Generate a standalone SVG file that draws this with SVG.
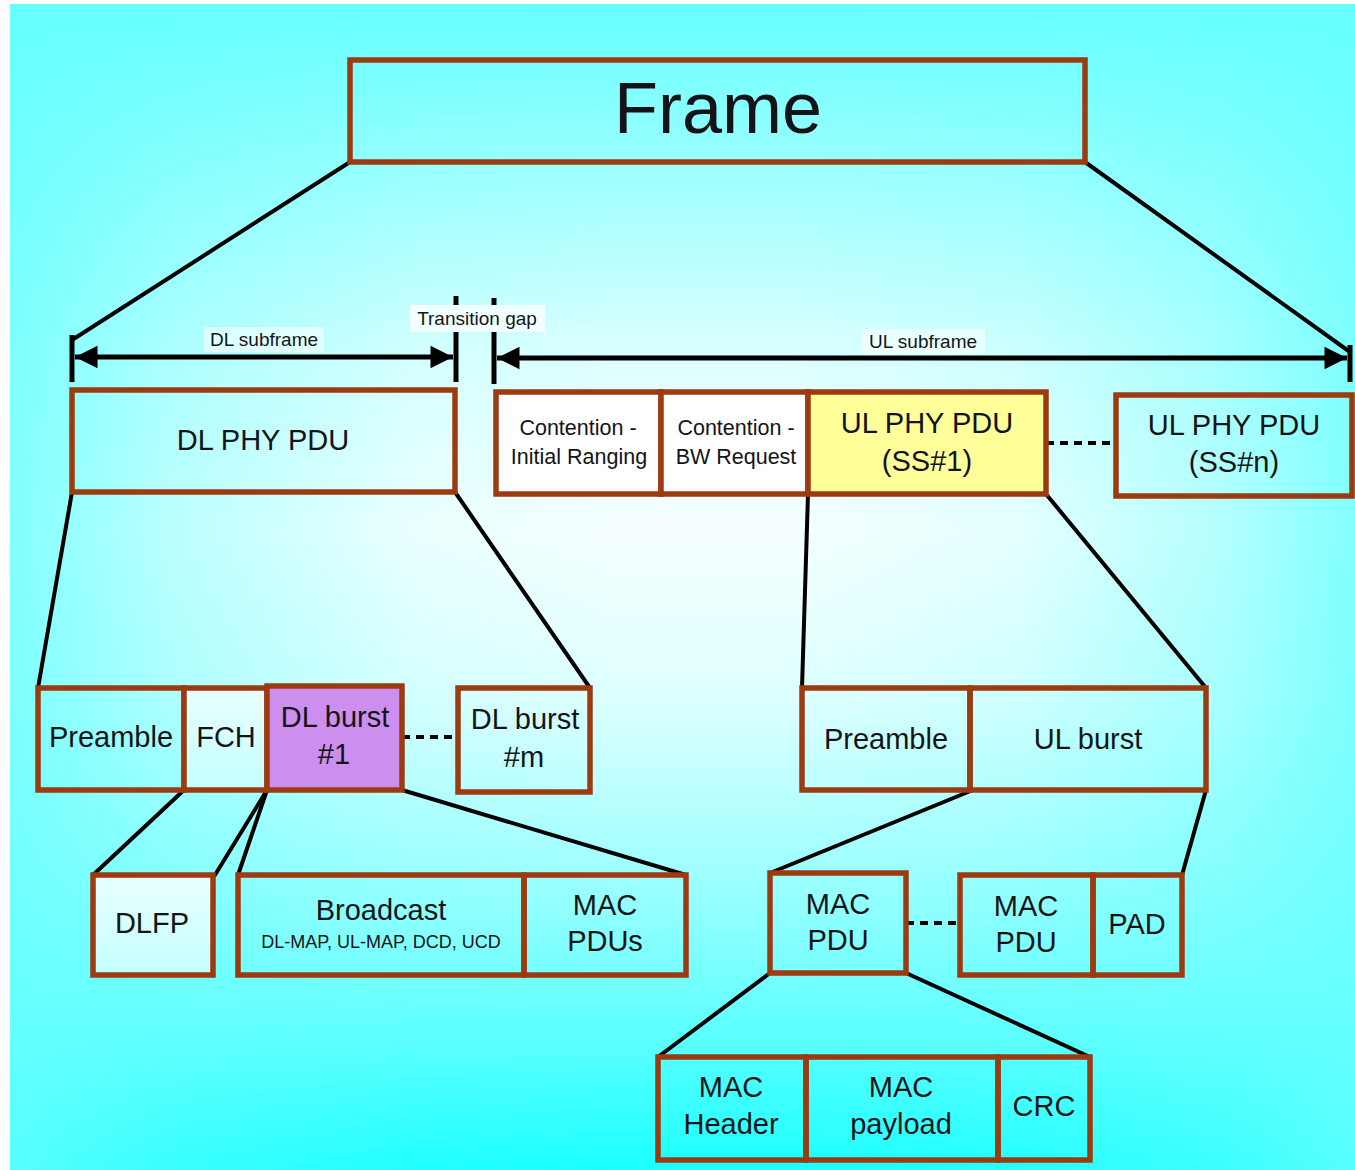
<svg xmlns="http://www.w3.org/2000/svg" width="1355" height="1170" viewBox="0 0 1355 1170">
  <defs>
    <!-- slide background: pale centre fading to cyan towards every edge -->
    <linearGradient id="bgV" x1="0" y1="0" x2="0" y2="1">
      <stop offset="0" stop-color="#66ffff"/>
      <stop offset="0.1" stop-color="#8cffff"/>
      <stop offset="0.3" stop-color="#dcffff"/>
      <stop offset="0.45" stop-color="#f6ffff"/>
      <stop offset="0.6" stop-color="#dcffff"/>
      <stop offset="0.78" stop-color="#90ffff"/>
      <stop offset="0.9" stop-color="#55ffff"/>
      <stop offset="1" stop-color="#1affff"/>
    </linearGradient>
    <linearGradient id="bgH" x1="0" y1="0" x2="1" y2="0">
      <stop offset="0" stop-color="#66ffff" stop-opacity="0.8"/>
      <stop offset="0.12" stop-color="#66ffff" stop-opacity="0.4"/>
      <stop offset="0.3" stop-color="#66ffff" stop-opacity="0.08"/>
      <stop offset="0.45" stop-color="#66ffff" stop-opacity="0"/>
      <stop offset="0.58" stop-color="#66ffff" stop-opacity="0"/>
      <stop offset="0.75" stop-color="#66ffff" stop-opacity="0.12"/>
      <stop offset="0.9" stop-color="#66ffff" stop-opacity="0.45"/>
      <stop offset="1" stop-color="#66ffff" stop-opacity="0.8"/>
    </linearGradient>
    <linearGradient id="paleFill" x1="0" y1="0" x2="0" y2="1">
      <stop offset="0" stop-color="#eaffff"/>
      <stop offset="1" stop-color="#c4ffff"/>
    </linearGradient>
    <marker id="ah" viewBox="0 0 10 10" refX="10" refY="5" markerWidth="5.5" markerHeight="4.5" orient="auto-start-reverse" markerUnits="strokeWidth">
      <path d="M0,0 L10,5 L0,10 z" fill="#000"/>
    </marker>
  </defs>
  <style>
    .box { fill: none; stroke: #9c3a10; stroke-width: 5.5; stroke-linejoin: miter; }
    .conn { stroke: #000; stroke-width: 4; fill: none; stroke-linecap: round; }
    .dash { stroke: #000; stroke-width: 4; stroke-dasharray: 8 6; fill: none; }
    .tick { stroke: #000; stroke-width: 5; }
    .span { stroke: #000; stroke-width: 5; fill: none; }
    .lblbg { fill: #ffffff; fill-opacity: 0.55; }
    text { font-family: "Liberation Sans", Arial, sans-serif; fill: #141418; text-anchor: middle; }
    .t29 { font-size: 29px; }
    .t22 { font-size: 21.5px; }
    .t19 { font-size: 19px; }
    .t18 { font-size: 18px; }
  </style>

  <!-- page background -->
  <rect x="0" y="0" width="1355" height="1170" fill="#ffffff"/>
  <rect x="10" y="4" width="1345" height="1166" fill="url(#bgV)"/>
  <rect x="10" y="4" width="1345" height="1166" fill="url(#bgH)"/>

  <!-- connectors: expansion lines, span arrows, dashed continuations -->
  <g id="connectors">
    <line class="conn" x1="350" y1="162" x2="72" y2="340"/>
    <line class="conn" x1="1085" y1="162" x2="1350" y2="352"/>

    <line class="tick" x1="72" y1="335" x2="72" y2="382"/>
    <line class="tick" x1="456" y1="296" x2="456" y2="382"/>
    <line class="tick" x1="494" y1="298" x2="494" y2="384"/>
    <line class="tick" x1="1350" y1="345" x2="1350" y2="382"/>
    <line class="span" x1="75" y1="357" x2="453" y2="357" marker-start="url(#ah)" marker-end="url(#ah)"/>
    <line class="span" x1="497" y1="358" x2="1347" y2="358" marker-start="url(#ah)" marker-end="url(#ah)"/>

    <line class="dash" x1="1046" y1="443" x2="1116" y2="443"/>

    <line class="conn" x1="72" y1="492" x2="38" y2="688"/>
    <line class="conn" x1="455" y1="492" x2="590" y2="688"/>
    <line class="conn" x1="808" y1="494" x2="802" y2="688"/>
    <line class="conn" x1="1046" y1="494" x2="1206" y2="688"/>

    <line class="dash" x1="402" y1="737" x2="458" y2="737"/>

    <line class="conn" x1="184" y1="790" x2="93" y2="875"/>
    <line class="conn" x1="267" y1="790" x2="215" y2="875"/>
    <line class="conn" x1="267" y1="790" x2="238" y2="875"/>
    <line class="conn" x1="402" y1="790" x2="686" y2="875"/>

    <line class="conn" x1="973" y1="790" x2="770" y2="873"/>
    <line class="conn" x1="1206" y1="790" x2="1182" y2="875"/>

    <line class="dash" x1="906" y1="923" x2="960" y2="923"/>

    <line class="conn" x1="770" y1="973" x2="658" y2="1057"/>
    <line class="conn" x1="906" y1="973" x2="1090" y2="1057"/>
  </g>

  <!-- span labels -->
  <g id="label-dl-subframe">
    <rect class="lblbg" x="204" y="327" width="120" height="25"/>
    <text class="t19" x="264" y="346">DL subframe</text>
  </g>
  <g id="label-transition-gap">
    <rect x="410" y="305" width="135" height="27" fill="#f2ffff"/>
    <text class="t19" x="477" y="325">Transition gap</text>
  </g>
  <g id="label-ul-subframe">
    <rect class="lblbg" x="862" y="329" width="123" height="25"/>
    <text class="t19" x="923" y="348">UL subframe</text>
  </g>

  <!-- level 0 -->
  <g id="frame">
    <rect class="box" x="350" y="60" width="735" height="102"/>
    <text x="718" y="133" font-size="72">Frame</text>
  </g>

  <!-- level 1 -->
  <g id="dl-phy-pdu">
    <rect class="box" x="72" y="390" width="383" height="102"/>
    <text class="t29" x="263" y="450">DL PHY PDU</text>
  </g>
  <g id="contention-ranging">
    <rect class="box" x="496" y="392" width="165" height="102" style="fill:#ffffff"/>
    <text class="t22" x="578" y="435">Contention -</text>
    <text class="t22" x="579" y="464">Initial Ranging</text>
  </g>
  <g id="contention-bw">
    <rect class="box" x="661" y="392" width="147" height="102" style="fill:#ffffff"/>
    <text class="t22" x="736" y="435">Contention -</text>
    <text class="t22" x="736" y="464">BW Request</text>
  </g>
  <g id="ul-phy-pdu-1">
    <rect class="box" x="808" y="392" width="238" height="102" style="fill:#ffff99"/>
    <text class="t29" x="927" y="433">UL PHY PDU</text>
    <text class="t29" x="927" y="471">(SS#1)</text>
  </g>
  <g id="ul-phy-pdu-n">
    <rect class="box" x="1116" y="395" width="236" height="101"/>
    <text class="t29" x="1234" y="435">UL PHY PDU</text>
    <text class="t29" x="1234" y="472">(SS#n)</text>
  </g>

  <!-- level 2, downlink -->
  <g id="dl-preamble">
    <rect class="box" x="38" y="688" width="146" height="102"/>
    <text class="t29" x="111" y="747">Preamble</text>
  </g>
  <g id="fch">
    <rect class="box" x="184" y="688" width="83" height="102" style="fill:url(#paleFill)"/>
    <text class="t29" x="226" y="747">FCH</text>
  </g>
  <g id="dl-burst-1">
    <rect class="box" x="267" y="686" width="135" height="104" style="fill:#cc8fef"/>
    <text class="t29" x="335" y="727">DL burst</text>
    <text class="t29" x="334" y="764">#1</text>
  </g>
  <g id="dl-burst-m">
    <rect class="box" x="458" y="688" width="132" height="104"/>
    <text class="t29" x="525" y="729">DL burst</text>
    <text class="t29" x="524" y="767">#m</text>
  </g>

  <!-- level 2, uplink -->
  <g id="ul-preamble">
    <rect class="box" x="802" y="688" width="168" height="102"/>
    <text class="t29" x="886" y="749">Preamble</text>
  </g>
  <g id="ul-burst">
    <rect class="box" x="970" y="688" width="236" height="102"/>
    <text class="t29" x="1088" y="749">UL burst</text>
  </g>

  <!-- level 3, downlink -->
  <g id="dlfp">
    <rect class="box" x="93" y="875" width="120" height="100" style="fill:url(#paleFill)"/>
    <text class="t29" x="152" y="933">DLFP</text>
  </g>
  <g id="broadcast">
    <rect class="box" x="238" y="875" width="286" height="100"/>
    <text class="t29" x="381" y="920">Broadcast</text>
    <text class="t18" x="381" y="948">DL-MAP, UL-MAP, DCD, UCD</text>
  </g>
  <g id="mac-pdus">
    <rect class="box" x="524" y="875" width="162" height="100"/>
    <text class="t29" x="605" y="915">MAC</text>
    <text class="t29" x="605" y="951">PDUs</text>
  </g>

  <!-- level 3, uplink -->
  <g id="mac-pdu-1">
    <rect class="box" x="770" y="873" width="136" height="100"/>
    <text class="t29" x="838" y="914">MAC</text>
    <text class="t29" x="838" y="950">PDU</text>
  </g>
  <g id="mac-pdu-k">
    <rect class="box" x="960" y="875" width="133" height="100"/>
    <text class="t29" x="1026" y="916">MAC</text>
    <text class="t29" x="1026" y="952">PDU</text>
  </g>
  <g id="pad">
    <rect class="box" x="1093" y="875" width="89" height="100"/>
    <text class="t29" x="1137" y="934">PAD</text>
  </g>

  <!-- level 4 -->
  <g id="mac-header">
    <rect class="box" x="658" y="1057" width="148" height="103"/>
    <text class="t29" x="731" y="1097">MAC</text>
    <text class="t29" x="731" y="1134">Header</text>
  </g>
  <g id="mac-payload">
    <rect class="box" x="806" y="1057" width="192" height="103"/>
    <text class="t29" x="901" y="1097">MAC</text>
    <text class="t29" x="901" y="1134">payload</text>
  </g>
  <g id="crc">
    <rect class="box" x="998" y="1057" width="92" height="103"/>
    <text class="t29" x="1044" y="1116">CRC</text>
  </g>
</svg>
